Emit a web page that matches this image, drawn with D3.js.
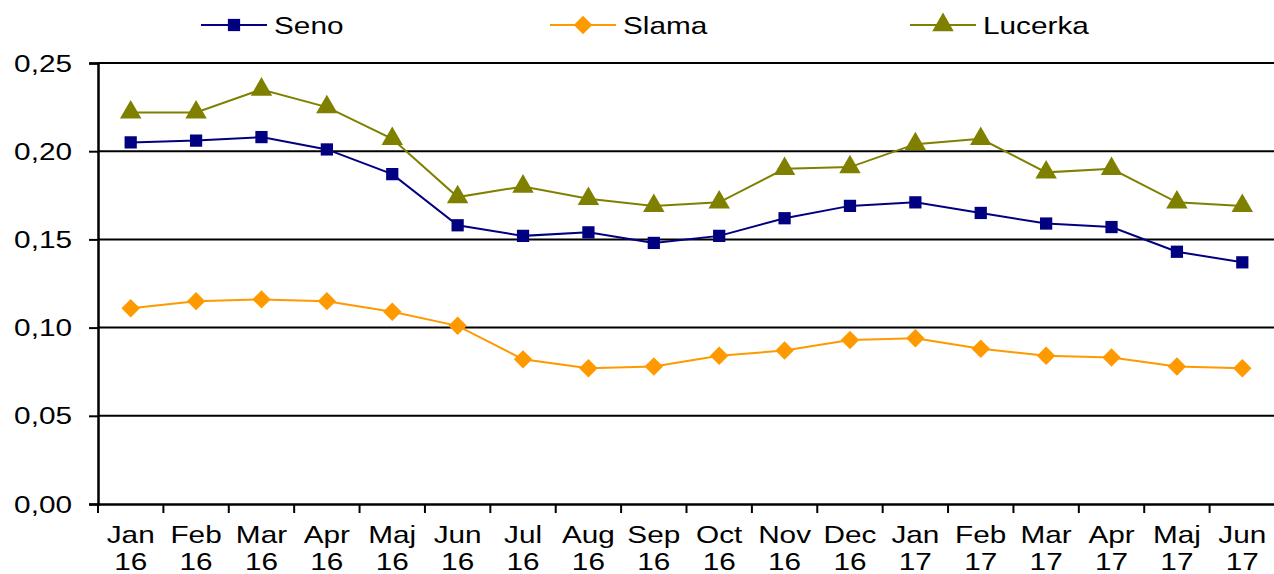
<!DOCTYPE html>
<html>
<head>
<meta charset="utf-8">
<script src="https://cdn.jsdelivr.net/npm/d3@7"></script>
<style>
  body { margin: 0; background: #fff; }
  svg { display: block; font-family: "Liberation Sans", Arial, sans-serif; }
</style>
</head>
<body>
<svg id="chart" width="1274" height="574"></svg>
<script>
// categories (month / year)
var months = ["Jan","Feb","Mar","Apr","Maj","Jun","Jul","Aug","Sep","Oct","Nov","Dec","Jan","Feb","Mar","Apr","Maj","Jun"];
var years  = ["16","16","16","16","16","16","16","16","16","16","16","16","17","17","17","17","17","17"];

var seno    = [0.205, 0.206, 0.208, 0.201, 0.187, 0.158, 0.152, 0.154, 0.148, 0.152, 0.162, 0.169, 0.171, 0.165, 0.159, 0.157, 0.143, 0.137];
var slama   = [0.111, 0.115, 0.116, 0.115, 0.109, 0.101, 0.082, 0.077, 0.078, 0.084, 0.087, 0.093, 0.094, 0.088, 0.084, 0.083, 0.078, 0.077];
var lucerka = [0.222, 0.222, 0.235, 0.225, 0.207, 0.174, 0.180, 0.173, 0.169, 0.171, 0.190, 0.191, 0.204, 0.207, 0.188, 0.190, 0.171, 0.169];

var yTicks = [0, 0.05, 0.10, 0.15, 0.20, 0.25];

var series = [
  { name: "Seno",    values: seno,    color: "#000080", marker: "square"  },
  { name: "Slama",   values: slama,   color: "#FF9900", marker: "diamond" },
  { name: "Lucerka", values: lucerka, color: "#808000", marker: "triangle" }
];

var svg = d3.select("#chart");
var mLeft = 98, mRight = 1275, mTop = 63, mBottom = 504;
var STRETCH = 1.24, FS = 24;
var idx = d3.range(months.length);

var x = d3.scaleBand().domain(idx).range([mLeft, mRight]);
var y = d3.scaleLinear().domain([0, 0.25]).range([mBottom, mTop]);
var fmt = function (d) { return d3.format(".2f")(d).replace(".", ","); };
var cx = function (i) { return x(i) + x.bandwidth() / 2; };

// text drawn with a horizontal stretch (Excel-like wide Arial)
function wideText(g, tx, ty, txt, anchor) {
  return g.append("text")
    .attr("transform", "translate(" + tx + "," + ty + ") scale(" + STRETCH + ",1)")
    .attr("text-anchor", anchor || "start")
    .attr("font-size", FS).attr("fill", "#000").text(txt);
}

// gridlines
svg.append("g").selectAll("line").data(yTicks.slice(1)).join("line")
  .attr("x1", mLeft).attr("x2", 1274)
  .attr("y1", function (d) { return y(d); }).attr("y2", function (d) { return y(d); })
  .attr("stroke", "#000").attr("stroke-width", 2);

// y axis
var yAxis = svg.append("g").attr("transform", "translate(" + mLeft + ",0)")
  .call(d3.axisLeft(y).tickValues(yTicks).tickFormat("").tickSize(9));
yAxis.select(".domain").attr("stroke-width", 2.5);
yAxis.selectAll(".tick line").attr("stroke-width", 2);
var yl = svg.append("g");
yTicks.forEach(function (t) { wideText(yl, 72, y(t) + 8.5, fmt(t), "end"); });

// x axis
var xAxis = svg.append("g").attr("transform", "translate(0," + mBottom + ")")
  .call(d3.axisBottom(x).tickValues([]).tickSizeOuter(0));
xAxis.select(".domain").attr("stroke-width", 2.5);
svg.append("g").selectAll("line").data(d3.range(months.length + 1)).join("line")
  .attr("x1", function (i) { return mLeft + i * x.step(); })
  .attr("x2", function (i) { return mLeft + i * x.step(); })
  .attr("y1", mBottom).attr("y2", mBottom + 9)
  .attr("stroke", "#000").attr("stroke-width", 2);

var xl = svg.append("g");
idx.forEach(function (i) {
  wideText(xl, cx(i), 543, months[i], "middle");
  wideText(xl, cx(i), 570, years[i], "middle");
});

// square-ish diamond like the spreadsheet marker
var diamondType = {
  draw: function (ctx, size) {
    var r = Math.sqrt(size / 2);
    ctx.moveTo(0, -r); ctx.lineTo(r, 0); ctx.lineTo(0, r); ctx.lineTo(-r, 0); ctx.closePath();
  }
};

var symbols = {
  square:   d3.symbol().type(d3.symbolSquare).size(150),
  diamond:  d3.symbol().type(diamondType).size(170),
  triangle: d3.symbol().type(d3.symbolTriangle).size(200)
};

var line = d3.line()
  .x(function (d, i) { return cx(i); })
  .y(function (d) { return y(d); });

series.forEach(function (s) {
  var g = svg.append("g");
  g.append("path").datum(s.values).attr("d", line)
    .attr("fill", "none").attr("stroke", s.color).attr("stroke-width", 2);
  g.selectAll("path.m").data(s.values).join("path").attr("class", "m")
    .attr("d", symbols[s.marker])
    .attr("transform", function (d, i) { return "translate(" + cx(i) + "," + y(d) + ")"; })
    .attr("fill", s.color);
});

// legend
var legendX = [201, 550, 910];
var lg = svg.append("g");
series.forEach(function (s, i) {
  var g = lg.append("g").attr("transform", "translate(" + legendX[i] + ",25)");
  g.append("line").attr("x1", 0).attr("x2", 66).attr("y1", 0).attr("y2", 0)
    .attr("stroke", s.color).attr("stroke-width", 2);
  g.append("path").attr("d", symbols[s.marker]()).attr("transform", "translate(33,0)")
    .attr("fill", s.color);
  wideText(g, 73, 8.5, s.name, "start");
});
</script>
</body>
</html>
